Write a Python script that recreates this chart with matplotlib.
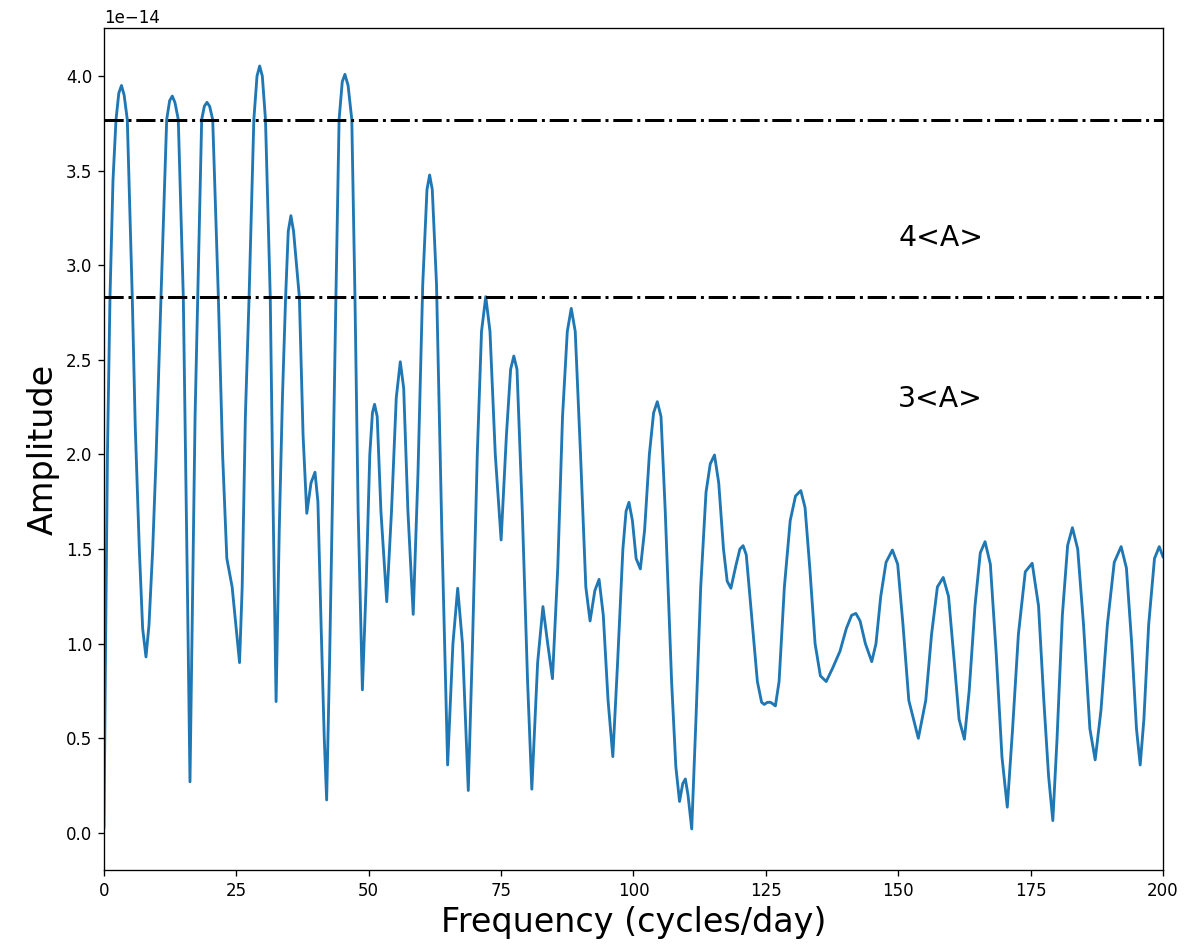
import numpy as np
import matplotlib
matplotlib.use("Agg")
import matplotlib.pyplot as plt

# amplitude spectrum (amp in units of 1e-14)
freq = [0.0, 0.3, 0.65, 1.13, 1.7, 2.27, 2.8, 3.3, 3.8, 4.4, 5.34, 5.9, 6.67, 7.3, 7.93,
        8.5, 9.2, 9.82, 10.76, 11.84, 12.4, 12.9, 13.4, 14.03, 14.98, 15.3, 15.8, 16.24,
        16.7, 17.2, 17.7, 18.45, 18.95, 19.45, 19.95, 20.53, 21.6, 22.4, 23.2, 24.2, 24.9, 25.6,
        26.1, 26.7, 27.4, 28.3, 28.9, 29.4, 29.9, 30.5, 31.4, 31.9, 32.5,
        33.1, 33.7, 34.3, 34.8, 35.3, 35.8, 36.9, 37.6, 38.3, 39.1, 39.85, 40.4, 41.0, 41.6, 42.05,
        42.6, 43.3, 43.8, 44.4, 45.0, 45.5, 46.1, 46.8, 47.4, 48.0, 48.8,
        49.5, 50.2, 50.7, 51.1, 51.6, 52.3, 53.4, 54.3, 55.2, 55.96, 56.6, 57.4, 58.4,
        59.3, 60.2, 61.0, 61.5, 62.0, 62.8, 63.8, 64.9, 65.9, 66.8, 67.7, 68.8,
        69.6, 70.5, 71.3, 72.1, 72.9, 73.9, 75.0, 76.0, 76.8, 77.4, 78.0, 79.0, 80.0, 80.8,
        81.9, 82.9, 83.8, 84.7, 85.7, 86.6, 87.5, 88.25, 89.0, 90.0, 91.0, 91.8,
        92.7, 93.5, 94.3, 95.2, 96.1, 97.0, 98.0, 98.6, 99.15, 99.8, 100.5, 101.3,
        102.1, 103.0, 103.8, 104.5, 105.2, 106.0, 107.2, 108.0, 108.7, 109.3, 109.8, 110.3, 111.0,
        111.8, 112.7, 113.7, 114.5, 115.3, 116.1, 117.0, 117.7, 118.4, 119.4, 120.1, 120.7,
        121.3, 122.3, 123.4, 124.2, 124.7, 125.3, 125.9, 126.4, 126.8,
        127.5, 128.5, 129.6, 130.6, 131.6, 132.4, 133.3, 134.3, 135.3, 136.4,
        137.6, 139.0, 140.2, 141.2, 142.0, 142.8, 143.8, 145.0,
        145.8, 146.7, 147.7, 148.9, 149.9, 150.9, 152.0, 153.8,
        155.2, 156.3, 157.4, 158.5, 159.5, 160.6, 161.5, 162.5,
        163.4, 164.5, 165.5, 166.4, 167.4, 168.5, 169.6, 170.6,
        171.6, 172.7, 174.0, 175.3, 176.5, 177.5, 178.4, 179.2,
        180.0, 181.0, 182.0, 182.9, 183.9, 185.0, 186.2, 187.2,
        188.3, 189.5, 190.8, 192.1, 193.1, 194.1, 195.0, 195.7,
        196.4, 197.3, 198.4, 199.3, 200.0]
amp = [0.03, 1.0, 2.0, 2.83, 3.45, 3.77, 3.91, 3.95, 3.90, 3.77, 2.83, 2.15, 1.50, 1.08, 0.93,
       1.10, 1.50, 1.97, 2.83, 3.77, 3.87, 3.894, 3.86, 3.77, 2.83, 2.2, 1.2, 0.27,
       1.2, 2.2, 2.83, 3.77, 3.84, 3.861, 3.84, 3.77, 2.83, 2.0, 1.45, 1.30, 1.1, 0.90,
       1.3, 2.2, 2.83, 3.77, 4.0, 4.053, 4.0, 3.77, 2.83, 1.8, 0.694,
       1.6, 2.3, 2.83, 3.18, 3.262, 3.18, 2.83, 2.1, 1.689, 1.85, 1.906, 1.75, 1.1, 0.5, 0.174,
       0.9, 2.0, 2.83, 3.77, 3.97, 4.009, 3.95, 3.77, 2.83, 1.7, 0.756,
       1.3, 2.0, 2.22, 2.265, 2.2, 1.7, 1.222, 1.7, 2.3, 2.49, 2.35, 1.7, 1.155,
       1.9, 2.9, 3.4, 3.477, 3.4, 2.9, 1.6, 0.359, 1.0, 1.293, 1.0, 0.224,
       1.0, 2.0, 2.65, 2.834, 2.65, 2.0, 1.548, 2.1, 2.45, 2.52, 2.45, 1.7, 0.8, 0.231,
       0.9, 1.196, 1.0, 0.815, 1.4, 2.2, 2.65, 2.772, 2.65, 2.0, 1.3, 1.12,
       1.28, 1.34, 1.15, 0.7, 0.403, 0.9, 1.5, 1.7, 1.747, 1.65, 1.45, 1.395,
       1.6, 2.0, 2.22, 2.279, 2.2, 1.7, 0.8, 0.35, 0.166, 0.26, 0.285, 0.2, 0.021,
       0.6, 1.3, 1.8, 1.95, 1.997, 1.85, 1.5, 1.33, 1.293, 1.42, 1.50, 1.518,
       1.47, 1.15, 0.8, 0.69, 0.679, 0.69, 0.69, 0.68, 0.671,
       0.8, 1.3, 1.65, 1.78, 1.809, 1.72, 1.4, 1.0, 0.83, 0.80,
       0.87, 0.96, 1.08, 1.15, 1.16, 1.12, 1.0, 0.905,
       1.0, 1.25, 1.43, 1.495, 1.42, 1.1, 0.7, 0.50,
       0.7, 1.05, 1.3, 1.35, 1.25, 0.9, 0.6, 0.495,
       0.75, 1.2, 1.48, 1.539, 1.42, 0.95, 0.4, 0.136,
       0.55, 1.05, 1.38, 1.425, 1.2, 0.7, 0.3, 0.065,
       0.5, 1.15, 1.52, 1.613, 1.5, 1.1, 0.55, 0.386,
       0.65, 1.1, 1.43, 1.513, 1.4, 1.0, 0.55, 0.359,
       0.6, 1.1, 1.45, 1.513, 1.46]

mean_levels = [2.83, 3.77]      # 3<A>, 4<A>
level_labels = ["3<A>", "4<A>"]
label_y = [2.25, 3.1]

freq = np.array(freq)
amp = np.array(amp) * 1e-14

fig = plt.figure(figsize=(9.95, 7.9), dpi=120)
ax = fig.add_axes([0.0871, 0.0823, 0.8869, 0.8882])

ax.plot(freq, amp, color="#1f77b4", lw=1.7, solid_joinstyle="round")
for lev in mean_levels:
    ax.axhline(lev * 1e-14, color="black", ls="-.", lw=1.8)
for lab, yy in zip(level_labels, label_y):
    ax.text(150, yy * 1e-14, lab, fontsize=17)

ax.set_xlim(0, 200)
ax.set_ylim(-0.196e-14, 4.254e-14)
ax.set_xlabel("Frequency (cycles/day)", fontsize=20)
ax.set_ylabel("Amplitude", fontsize=20)

plt.savefig("out.png", dpi=120)
